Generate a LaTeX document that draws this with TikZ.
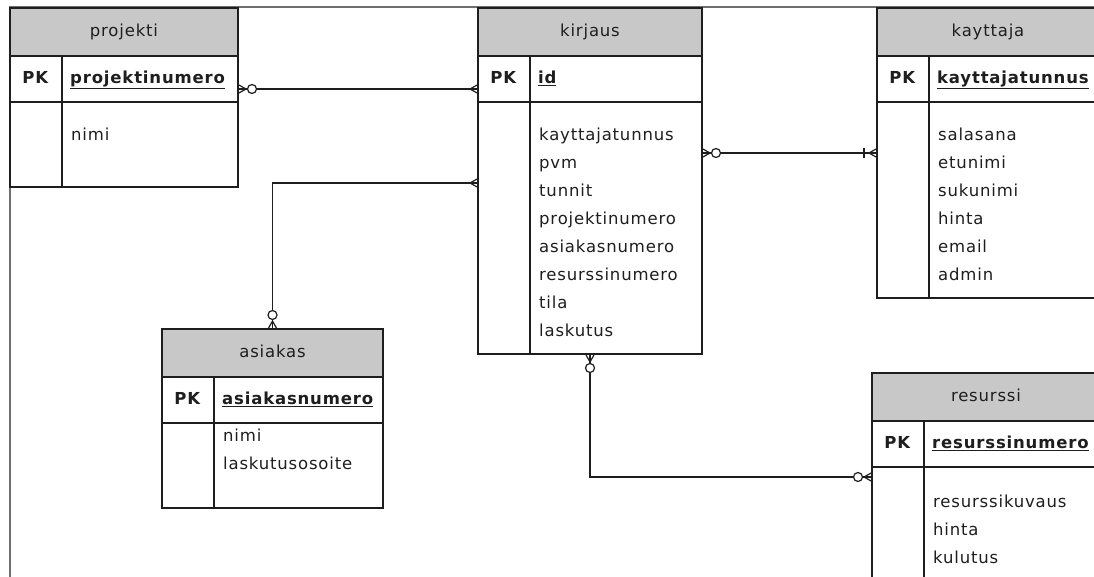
\documentclass[tikz,border=0pt]{standalone}
\usepackage{fontspec}
\setmainfont{DejaVu Sans}[LetterSpace=5]
\usepackage{tikz}
\usetikzlibrary{positioning,calc}
\usepackage{xcolor}
\definecolor{hdrgray}{RGB}{200,200,200}
\definecolor{framegray}{RGB}{110,110,110}
\definecolor{inkgray}{RGB}{30,30,30}

\tikzset{
  tbl/.style={draw=inkgray, line width=1.4pt, rectangle, inner sep=0pt, outer sep=0pt},
  cell/.style={inner sep=0pt, font=\fontsize{16.5}{28}\selectfont, text=inkgray},
  rel/.style={draw=inkgray, line width=1.2pt},
  crow/.pic={\draw[rel] (0,-4.5) -- (8,0) -- (0,4.5);},
  zero/.pic={\draw[rel, fill=white] (14,0) circle (4.5pt);},
  one/.pic={\draw[rel] (13,-5) -- (13,5);}
}

% name, x, y, width, height, title, key, first row, attributes
\newcommand{\ertable}[9]{%
  \fill[hdrgray] (#2,#3) rectangle ++(#4,48);
  \node[tbl, anchor=north west, minimum width=#4pt, minimum height=#5pt] (#1) at (#2,#3) {};
  \draw[tbl] ([yshift=-48pt]#1.north west) -- ([yshift=-48pt]#1.north east);
  \draw[tbl] ([yshift=-94pt]#1.north west) -- ([yshift=-94pt]#1.north east);
  \draw[tbl] ([shift={(52,48)}]#1.north west) -- ([xshift=52pt]#1.south west);
  \node[cell, anchor=mid] (#1-title) at ([yshift=-26pt]#1.north) {#6};
  \node[cell, anchor=mid] (#1-pk) at ([shift={(26,73)}]#1.north west) {\textbf{PK}};
  \node[cell, anchor=mid west] (#1-key) at ([shift={(60,73)}]#1.north west) {\textbf{\underline{#7}}};
  \foreach \a [count=\i] in {#9}
    \node[cell, anchor=mid west] (#1-a\i) at ([shift={(61,#8+28*\i-28)}]#1.north west) {\a};
}

\begin{document}
\begin{tikzpicture}[x=1pt, y=-1pt]
    \useasboundingbox (0,0) rectangle (1094,577);
    \clip (0,0) rectangle (1094,577);
    \fill[white] (0,0) rectangle (1094,577);
    % page frame
    \draw[framegray, line width=1.2pt] (10,577) -- (10,7) -- (1094,7);

    \ertable{projekti}{10}{8}{228}{179}{projekti}{projektinumero}{130}{nimi}
    \ertable{kirjaus}{478}{8}{224}{346}{kirjaus}{id}{130}{kayttajatunnus, pvm, tunnit, projektinumero, asiakasnumero, resurssinumero, tila, laskutus}
    \ertable{kayttaja}{877}{8}{222}{290}{kayttaja}{kayttajatunnus}{130}{salasana, etunimi, sukunimi, hinta, email, admin}
    \ertable{asiakas}{162}{329}{221}{179}{asiakas}{asiakasnumero}{110}{nimi, laskutusosoite}
    \ertable{resurssi}{872}{373}{228}{230}{resurssi}{resurssinumero}{132}{resurssikuvaus, hinta, kulutus}

    % relation ends
    \coordinate (projekti-r) at ([yshift=-81pt]projekti.north east);
    \coordinate (kirjaus-l1) at ([yshift=-81pt]kirjaus.north west);
    \coordinate (kirjaus-l2) at ([yshift=-175pt]kirjaus.north west);
    \coordinate (kirjaus-r) at ([yshift=-145pt]kirjaus.north east);
    \coordinate (kayttaja-l) at ([yshift=-145pt]kayttaja.north west);
    \coordinate (resurssi-l) at ([yshift=-104pt]resurssi.north west);

    \draw[rel] (projekti-r) -- (kirjaus-l1);
    \draw[rel] (kirjaus-l2) -| (asiakas.north);
    \draw[rel] (kirjaus-r) -- (kayttaja-l);
    \draw[rel] (kirjaus.south) |- (resurssi-l);

    \pic at (projekti-r) {crow};
    \pic at (projekti-r) {zero};
    \pic[rotate=180] at (kirjaus-l1) {crow};
    \pic[rotate=180] at (kirjaus-l2) {crow};
    \pic[rotate=90] at (asiakas.north) {crow};
    \pic[rotate=90] at (asiakas.north) {zero};
    \pic at (kirjaus-r) {crow};
    \pic at (kirjaus-r) {zero};
    \pic[rotate=180] at (kayttaja-l) {crow};
    \pic[rotate=180] at (kayttaja-l) {one};
    \pic[rotate=-90] at (kirjaus.south) {crow};
    \pic[rotate=-90] at (kirjaus.south) {zero};
    \pic[rotate=180] at (resurssi-l) {crow};
    \pic[rotate=180] at (resurssi-l) {zero};
\end{tikzpicture}
\end{document}
